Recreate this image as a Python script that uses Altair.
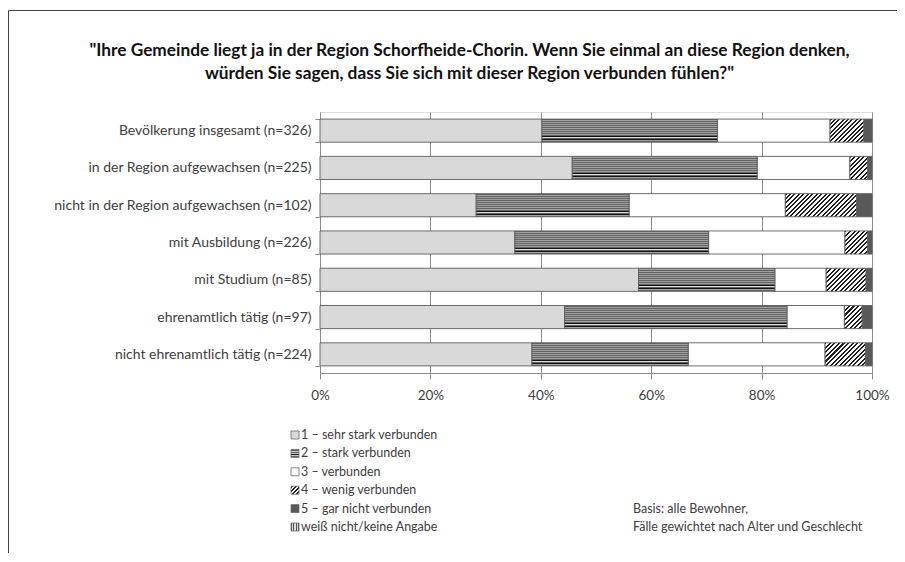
import altair as alt
import pandas as pd

# ---------------- data ----------------
groups = [
    "Bevölkerung insgesamt (n=326)",
    "in der Region aufgewachsen (n=225)",
    "nicht in der Region aufgewachsen (n=102)",
    "mit Ausbildung (n=226)",
    "mit Studium (n=85)",
    "ehrenamtlich tätig (n=97)",
    "nicht ehrenamtlich tätig (n=224)",
]
categories = [
    "1 – sehr stark verbunden",
    "2 – stark verbunden",
    "3 – verbunden",
    "4 – wenig verbunden",
    "5 – gar nicht verbunden",
    "weiß nicht/keine Angabe",
]
v_sehr_stark = [40.2, 45.7, 28.3, 35.3, 57.7, 44.3, 38.4]
v_stark = [31.8, 33.5, 27.7, 35.1, 24.7, 40.3, 28.3]
v_verbunden = [20.4, 16.8, 28.3, 24.7, 9.3, 10.4, 24.8]
v_wenig = [6.1, 3.2, 12.9, 4.1, 7.2, 3.2, 7.3]
v_gar_nicht = [1.5, 0.8, 2.8, 0.8, 1.1, 1.8, 1.2]
v_weiss_nicht = [0.0, 0.0, 0.0, 0.0, 0.0, 0.0, 0.0]
x_ticks = [0, 20, 40, 60, 80, 100]
title_lines = [
    '"Ihre Gemeinde liegt ja in der Region Schorfheide-Chorin. Wenn Sie einmal an diese Region denken,',
    'würden Sie sagen, dass Sie sich mit dieser Region verbunden fühlen?"',
]
footnote_lines = ["Basis: alle Bewohner,", "Fälle gewichtet nach Alter und Geschlecht"]

series = [v_sehr_stark, v_stark, v_verbunden, v_wenig, v_gar_nicht, v_weiss_nicht]
rows = []
for gi, g in enumerate(groups):
    for ci, c in enumerate(categories):
        rows.append({"group": g, "category": c, "order": ci, "value": series[ci][gi]})
df = pd.DataFrame(rows)

# ---------------- layout / style ----------------
PLOT_W, PLOT_H = 552, 261
PAD = {"left": 312, "top": 104, "right": 25, "bottom": 180}
P_INNER = 0.38
BAND_H = PLOT_H / len(groups) * (1 - P_INNER)
FONT = "Lato"
TXT = "#404040"
AXC = "#8c8c8c"
BAR_STROKE = "#5e5e5e"
BAR_SW = 0.9

solid_fill = {categories[0]: "#d9d9d9", categories[2]: "#ffffff", categories[4]: "#595959"}


def GS(o, c):
    return alt.GradientStop(offset=min(1.0, max(0.0, o)), color=c)


def band_stops(colors):
    n = len(colors)
    out = []
    for i, c in enumerate(colors):
        out.append(GS(i / n, c))
        out.append(GS((i + 1) / n, c))
    return out


def lin(stops, x2, y2):
    return alt.LinearGradient(gradient="linear", stops=stops, x1=0, y1=0, x2=x2, y2=y2)


def diag(w, h, period=4.4, dark=0.45, c_dark="#1e1e1e", c_light="#ffffff"):
    s = w + h
    n = max(1, round(s / period))
    stops = []
    for i in range(n):
        a0, a1, a2 = i / n, (i + dark) / n, (i + 1) / n
        stops += [GS(a0, c_dark), GS(a1, c_dark), GS(a1, c_light), GS(a2, c_light)]
    denom = w * w + h * h
    return lin(stops, x2=w * s / denom, y2=h * s / denom)


D, L, K, W = "#626262", "#a2a2a2", "#141414", "#dcdcdc"
stripe_colors = [D, L, D, L, D, L, D, L, D, L, D, L, D, L, D, L, D, K, W, D, K, L, D]
stripe_grad = lin(band_stops(stripe_colors), 0, 1)

# ---------------- bars ----------------
y_axis = alt.Axis(
    title=None, labelFont=FONT, labelFontSize=14, labelColor=TXT, labelPadding=4,
    tickSize=5, tickColor=AXC, domainColor=AXC, tickBand="extent", tickExtra=True,
    labelLimit=500, grid=False,
)
x_axis = alt.Axis(
    title=None, values=x_ticks, labelExpr="datum.value + '%'", grid=True, gridColor=AXC,
    domainColor=AXC, tickColor=AXC, tickSize=6, labelFont=FONT, labelFontSize=13.5,
    labelColor=TXT, labelPadding=9, labelFlush=False,
)
y_enc = alt.Y("group:N", sort=groups,
              scale=alt.Scale(paddingInner=P_INNER, paddingOuter=P_INNER / 2), axis=y_axis)
x_enc = alt.X("x0:Q", scale=alt.Scale(domain=[0, 100], nice=False), axis=x_axis)

base = (
    alt.Chart(df)
    .transform_filter("datum.value > 0")
    .transform_stack(stack="value", groupby=["group"], as_=["x0", "x1"],
                     sort=[alt.SortField(field="order", order="ascending")])
)

bar_layers = []
for cat, col in solid_fill.items():
    bar_layers.append(
        base.transform_filter(alt.datum.category == cat)
        .mark_bar(fill=col, stroke=BAR_STROKE, strokeWidth=BAR_SW)
        .encode(y=y_enc, x=x_enc, x2="x1:Q")
    )
bar_layers.append(
    base.transform_filter(alt.datum.category == categories[1])
    .mark_bar(fill=stripe_grad, stroke=BAR_STROKE, strokeWidth=BAR_SW)
    .encode(y=y_enc, x=x_enc, x2="x1:Q")
)
for gi, g in enumerate(groups):
    v = v_wenig[gi]
    if v <= 0:
        continue
    w = v * PLOT_W / 100.0
    bar_layers.append(
        base.transform_filter((alt.datum.category == categories[3]) & (alt.datum.group == g))
        .mark_bar(fill=diag(w, BAND_H), stroke=BAR_STROKE, strokeWidth=BAR_SW)
        .encode(y=y_enc, x=x_enc, x2="x1:Q")
    )
bars = alt.layer(*bar_layers)

# ---------------- legend + footnote ----------------
LEG_Y0, LEG_Y1 = 435 - 112, 527 - 112
LEG_X, LEG_TX = 295 - 320, 301 - 320
leg_df = pd.DataFrame({"label": categories})
leg_y = alt.Y("label:N", sort=categories,
              scale=alt.Scale(domain=categories, range=[LEG_Y0, LEG_Y1], padding=0), axis=None)

sw_fills = [
    "#d9d9d9",
    lin(band_stops([D, D, "#c8c8c8", D, "#c8c8c8", K, "#c8c8c8", D, D]), 0, 1),
    "#ffffff",
    diag(8, 8, period=4.0, dark=0.5),
    "#595959",
    lin(band_stops(["#505050", "#dddddd"] * 4 + ["#505050"]), 1, 0),
]
leg_layers = []
for cat, f in zip(categories, sw_fills):
    leg_layers.append(
        alt.Chart(leg_df).transform_filter(alt.datum.label == cat)
        .mark_square(size=64, fill=f, stroke="#6b6b6b", strokeWidth=0.8, opacity=1, filled=True)
        .encode(x=alt.value(LEG_X), y=leg_y)
    )
leg_layers.append(
    alt.Chart(leg_df).mark_text(align="left", baseline="middle", font=FONT, fontSize=12.5, color=TXT)
    .encode(x=alt.value(LEG_TX), y=leg_y, text="label:N")
)
foot_df = pd.DataFrame({"label": categories[4:6], "text": footnote_lines})
leg_layers.append(
    alt.Chart(foot_df).mark_text(align="left", baseline="middle", font=FONT, fontSize=12.5, color=TXT)
    .encode(x=alt.value(633 - 320), y=leg_y, text="text:N")
)
legend = alt.layer(*leg_layers)

# ---------------- title ----------------
title_layers = []
for i, line in enumerate(title_lines):
    title_layers.append(
        alt.Chart(pd.DataFrame({"t": [line]}))
        .mark_text(align="center", baseline="middle", font=FONT, fontSize=17.3, fontWeight="bold", color="#111111")
        .encode(x=alt.value(469.5 - 320), y=alt.value(51 - 112 + i * 22.5), text="t:N")
    )

# ---------------- frame ----------------
one = pd.DataFrame({"a": [0]})
frame_l = alt.Chart(one).mark_rule(color="#404040", strokeWidth=1).encode(
    x=alt.value(-311.5), y=alt.value(-101.5), y2=alt.value(PLOT_H + PAD["bottom"]))
frame_t = alt.Chart(one).mark_rule(color="#404040", strokeWidth=1).encode(
    x=alt.value(-311.5), x2=alt.value(PLOT_W + PAD["right"]), y=alt.value(-101.5))

chart = (
    alt.layer(bars, legend, *title_layers, frame_l, frame_t)
    .resolve_scale(y="independent")
    .properties(width=PLOT_W, height=PLOT_H, autosize=alt.AutoSizeParams(type="none"), padding=PAD)
    .configure_view(stroke=None)
    .configure(background="white")
)

chart.save("out.html", embed_options={"renderer": "svg", "actions": False})
